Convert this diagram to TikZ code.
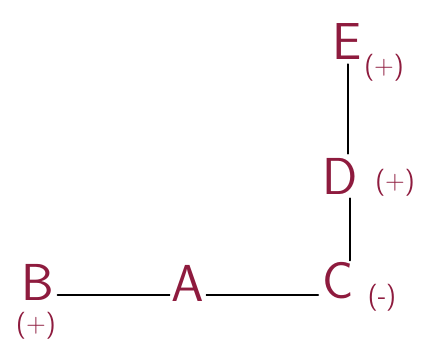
\documentclass[tikz,border=0pt]{standalone}
\definecolor{ink}{HTML}{8E1B3E}
\tikzset{
  lbl/.style={text=ink, inner sep=0pt, font=\sffamily\fontsize{52}{52}\selectfont},
  sgn/.style={text=ink, inner sep=0pt, font=\sffamily\fontsize{27}{27}\selectfont},
  bond/.style={draw=black, line width=1.8pt, line cap=round}
}
\begin{document}
\begin{tikzpicture}[x=1pt,y=-1pt]
\useasboundingbox (0,0) rectangle (435,349);
\node[lbl] (E) at (347,42) {E};
\node[sgn] (Es) at (384,68) {(+)};
\node[lbl] (D) at (340,176) {D};
\node[sgn] (Ds) at (395,183) {(+)};
\node[lbl] (C) at (338,281) {C};
\node[sgn] (Cs) at (382,298) {(-)};
\node[lbl] (A) at (188,283) {A};
\node[lbl] (B) at (38,282) {B};
\node[sgn] (Bs) at (36,326) {(+)};
\draw[bond] ([xshift=1pt,yshift=-4pt]E.south) -- ([xshift=8pt,yshift=4pt]D.north);
\draw[bond] ([xshift=10pt,yshift=-4pt]D.south) -- ([xshift=12pt,yshift=2pt]C.north);
\draw[bond] ([xshift=3pt,yshift=-13pt]B.east) -- ([xshift=-2pt,yshift=-12pt]A.west);
\draw[bond] ([xshift=2pt,yshift=-12pt]A.east) -- ([xshift=-4pt,yshift=-14pt]C.west);
\end{tikzpicture}
\end{document}
